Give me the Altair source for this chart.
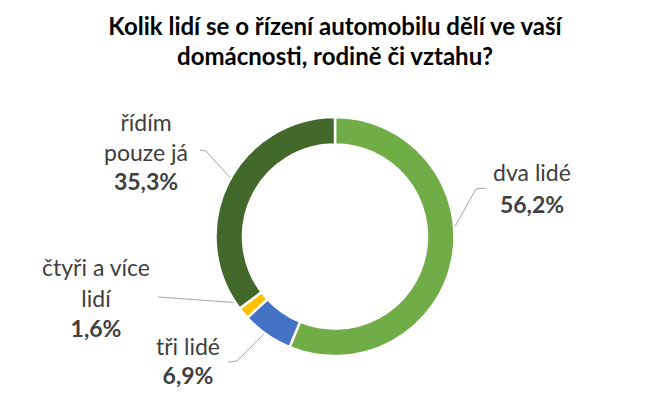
import math
import altair as alt
import pandas as pd

# ---- data ----
categories = ["dva lidé", "tři lidé", "čtyři a více lidí", "řídím pouze já"]
values = [56.2, 6.9, 1.6, 35.3]
colors = ["#70AD47", "#4472C4", "#FFC000", "#43682B"]
label_lines = [["dva lidé"], ["tři lidé"], ["čtyři a více", "lidí"], ["řídím", "pouze já"]]

# ---- layout (image pixel coordinates) ----
W, H = 654, 306
PAD_TOP = 75
OX, OY = 8, 8 + PAD_TOP           # plot origin in page pixels
CX, CY = 335, 236.5               # donut centre
R_OUT, R_IN, R_LEADER = 119.5, 92, 105
# label centre x, first baseline y, line step
label_pos = [(532, 181, 32), (188, 355, 29), (96, 276, 30.5), (146, 131, 29.5)]
# leader line: label end point, elbow point
leader_pts = [((486, 188), (476, 189)),
              ((228, 362), (237, 361)),
              ((158, 297), (158, 297)),
              ((200, 150), (206, 151))]

FONT = "Lato"
GRAY = "#404040"
LABEL_SIZE = 23

df = pd.DataFrame({"cat": categories, "val": values,
                   "order": list(range(len(categories)))})

# text rows
rows = []
for i, (lines, (lx, ly, step)) in enumerate(zip(label_lines, label_pos)):
    for j, t in enumerate(lines):
        rows.append({"t": t, "x": lx - OX, "y": ly + j * step - OY, "bold": False})
    pct = f"{values[i]:.1f}".replace(".", ",") + "%"
    rows.append({"t": pct, "x": lx - OX, "y": ly + len(lines) * step - OY, "bold": True})
tdf = pd.DataFrame(rows)

# leader lines: start on ring at slice mid-angle
total = sum(values)
lrows = []
cum = 0.0
for i, v in enumerate(values):
    mid = (cum + v / 2) / total * 2 * math.pi
    cum += v
    rx = CX + R_LEADER * math.sin(mid)
    ry = CY - R_LEADER * math.cos(mid)
    (ex, ey), (bx, by) = leader_pts[i]
    for k, (px, py) in enumerate([(ex, ey), (bx, by), (rx, ry)]):
        lrows.append({"cat": categories[i], "k": k, "x": px - OX, "y": py - OY})
ldf = pd.DataFrame(lrows)

xs = alt.Scale(domain=[0, W], range=[0, W])
ys = alt.Scale(domain=[0, H], range=[0, H])

arc = alt.Chart(df).mark_arc(
    outerRadius=R_OUT, innerRadius=R_IN, stroke="white", strokeWidth=2.5
).encode(
    theta=alt.Theta("val:Q", stack=True),
    order=alt.Order("order:Q"),
    color=alt.Color("cat:N", scale=alt.Scale(domain=categories, range=colors), legend=None),
    x=alt.value(CX - OX),
    y=alt.value(CY - OY),
)

leaders = alt.Chart(ldf).mark_line(color="#A6A6A6", strokeWidth=1).encode(
    x=alt.X("x:Q", scale=xs, axis=None),
    y=alt.Y("y:Q", scale=ys, axis=None),
    detail="cat:N",
    order="k:Q",
)

txt_reg = alt.Chart(tdf).transform_filter("!datum.bold").mark_text(
    font=FONT, fontSize=LABEL_SIZE, color=GRAY, align="center", baseline="alphabetic"
).encode(
    x=alt.X("x:Q", scale=xs, axis=None),
    y=alt.Y("y:Q", scale=ys, axis=None),
    text="t:N",
)
txt_bold = alt.Chart(tdf).transform_filter("datum.bold").mark_text(
    font=FONT, fontSize=LABEL_SIZE, fontWeight="bold", color=GRAY, align="center", baseline="alphabetic"
).encode(
    x=alt.X("x:Q", scale=xs, axis=None),
    y=alt.Y("y:Q", scale=ys, axis=None),
    text="t:N",
)

chart = alt.layer(leaders, arc, txt_reg, txt_bold).properties(
    width=W, height=H,
    autosize=alt.AutoSizeParams(type="none"),
    padding={"left": 0, "right": 0, "top": PAD_TOP, "bottom": 0},
    title=alt.TitleParams(
        ["Kolik lidí se o řízení automobilu dělí ve vaší", "domácnosti, rodině či vztahu?"],
        font=FONT, fontSize=24, fontWeight="bold", color="#000000",
        anchor="middle", lineHeight=30, offset=13,
    ),
).configure_view(stroke=None)

chart.save("out.html", embed_options={"renderer": "svg", "actions": False})
